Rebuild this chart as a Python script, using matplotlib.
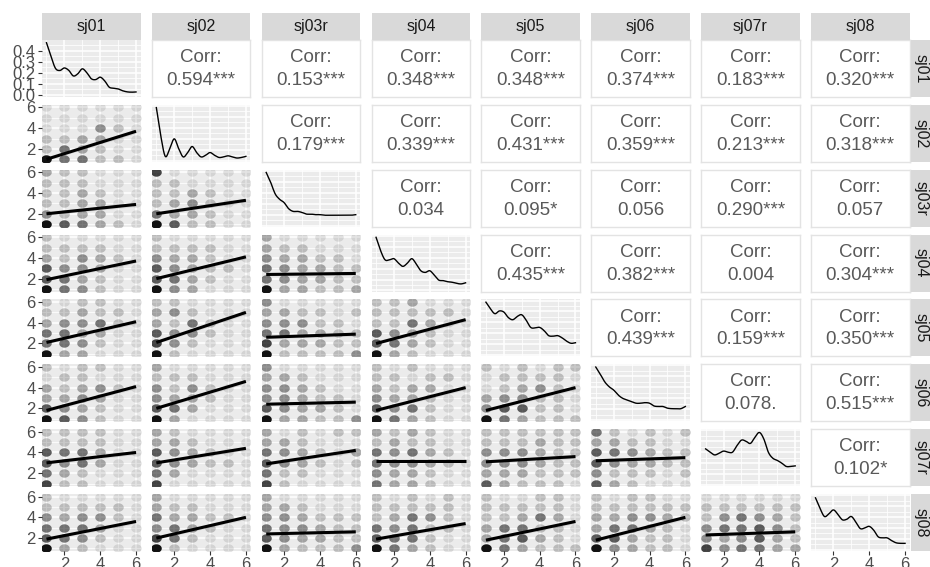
import numpy as np
import matplotlib
matplotlib.use("Agg")
import matplotlib.pyplot as plt
from matplotlib.path import Path

plt.rcParams['font.family'] = ['Liberation Sans', 'DejaVu Sans']

# ---------------- data ----------------
variables = ["sj01", "sj02", "sj03r", "sj04", "sj05", "sj06", "sj07r", "sj08"]
levels = [1, 2, 3, 4, 5, 6]
x_ticks = [2, 4, 6]

corr_labels = {
    (0, 1): "0.594***", (0, 2): "0.153***", (0, 3): "0.348***", (0, 4): "0.348***",
    (0, 5): "0.374***", (0, 6): "0.183***", (0, 7): "0.320***",
    (1, 2): "0.179***", (1, 3): "0.339***", (1, 4): "0.431***", (1, 5): "0.359***",
    (1, 6): "0.213***", (1, 7): "0.318***",
    (2, 3): "0.034", (2, 4): "0.095*", (2, 5): "0.056", (2, 6): "0.290***", (2, 7): "0.057",
    (3, 4): "0.435***", (3, 5): "0.382***", (3, 6): "0.004", (3, 7): "0.304***",
    (4, 5): "0.439***", (4, 6): "0.159***", (4, 7): "0.350***",
    (5, 6): "0.078.", (5, 7): "0.515***",
    (6, 7): "0.102*",
}

# point darkness 0-9 per (y level 6..1 rows, x level 1..6 cols)
scatter_density = {
    (1, 0): "111111 111111 111421 223311 253211 955221",
    (2, 0): "322111 222111 223211 223311 423311 965321",
    (2, 1): "711111 221111 223211 234211 533211 962211",
    (3, 0): "211111 222211 324321 644311 653211 954211",
    (3, 1): "211111 222211 433211 643221 653211 943111",
    (3, 2): "311111 322111 433221 543322 543322 933223",
    (4, 0): "212211 223221 344521 553311 554211 933111",
    (4, 1): "221111 342111 325211 644211 742111 921111",
    (4, 2): "411111 332212 444221 553322 733322 922224",
    (4, 3): "223111 222221 225311 643211 653211 932111",
    (5, 0): "212211 122111 323421 334311 643211 964211",
    (5, 1): "311111 222111 424211 433211 653111 931111",
    (5, 2): "411111 332111 443211 443221 643321 933224",
    (5, 3): "212111 221221 323311 433211 645211 953211",
    (5, 4): "212122 122221 123421 344221 466221 953222",
    (6, 0): "222211 222211 655311 645311 532111 722111",
    (6, 1): "321111 332111 643211 643221 531111 711111",
    (6, 2): "312122 332111 543213 643212 522111 721111",
    (6, 3): "323211 232211 545321 544321 433211 533211",
    (6, 4): "222222 222322 444322 444322 333222 632221",
    (6, 5): "521212 332211 654322 643322 422212 632111",
    (7, 0): "211111 222221 434421 555311 654211 932111",
    (7, 1): "311111 322111 533221 453211 752111 921111",
    (7, 2): "311111 332111 443222 544322 643322 932224",
    (7, 3): "212121 222221 235421 545221 655211 953211",
    (7, 4): "211221 222221 223531 355221 356321 953222",
    (7, 5): "212211 222222 334432 355321 663221 943221",
    (7, 6): "111111 222222 245432 455642 434632 745533",
}

# fitted line value at x=1 and x=6
fit_ends = {
    (1, 0): (1.0, 3.7), (2, 0): (2.0, 2.9), (2, 1): (2.0, 3.3),
    (3, 0): (1.9, 3.7), (3, 1): (2.0, 4.1), (3, 2): (2.4, 2.5),
    (4, 0): (2.1, 4.1), (4, 1): (2.1, 5.0), (4, 2): (2.6, 2.9), (4, 3): (2.0, 4.3),
    (5, 0): (1.8, 4.1), (5, 1): (2.0, 4.6), (5, 2): (2.4, 2.6), (5, 3): (1.8, 4.0),
    (5, 4): (1.8, 4.0),
    (6, 0): (3.0, 4.0), (6, 1): (3.0, 4.4), (6, 2): (2.9, 4.2), (6, 3): (3.2, 3.2),
    (6, 4): (3.1, 3.6), (6, 5): (3.2, 3.5),
    (7, 0): (1.9, 3.6), (7, 1): (2.0, 4.0), (7, 2): (2.4, 2.6), (7, 3): (1.9, 3.4),
    (7, 4): (1.8, 3.6), (7, 5): (1.8, 4.0), (7, 6): (2.3, 2.6),
}

# diagonal densities sampled at x = 1, 1.25, ..., 6
dens_x = [1, 1.25, 1.5, 1.75, 2, 2.25, 2.5, 2.75, 3, 3.25, 3.5, 3.75, 4,
          4.25, 4.5, 4.75, 5, 5.25, 5.5, 5.75, 6]
# sj01 in density units
dens_sj01 = [0.473, 0.35, 0.24, 0.22, 0.243, 0.22, 0.17, 0.19, 0.235, 0.20, 0.145,
             0.137, 0.159, 0.125, 0.068, 0.058, 0.052, 0.035, 0.025, 0.022, 0.024]
# the others as height within the panel (0 bottom, 1 top)
dens_rel = {
    "sj02": [0.97, 0.45, 0.08, 0.22, 0.40, 0.22, 0.07, 0.15, 0.26, 0.15, 0.07,
             0.10, 0.15, 0.10, 0.06, 0.07, 0.09, 0.07, 0.05, 0.06, 0.08],
    "sj03r": [0.97, 0.79, 0.58, 0.48, 0.42, 0.31, 0.26, 0.26, 0.24, 0.21, 0.21,
              0.20, 0.20, 0.19, 0.19, 0.19, 0.19, 0.19, 0.19, 0.19, 0.20],
    "sj04": [0.97, 0.73, 0.56, 0.56, 0.58, 0.50, 0.44, 0.50, 0.58, 0.48, 0.36,
             0.33, 0.36, 0.28, 0.19, 0.18, 0.16, 0.15, 0.13, 0.12, 0.14],
    "sj05": [0.97, 0.85, 0.76, 0.81, 0.79, 0.69, 0.65, 0.71, 0.74, 0.64, 0.51,
             0.50, 0.51, 0.45, 0.36, 0.35, 0.36, 0.32, 0.26, 0.22, 0.23],
    "sj06": [0.97, 0.84, 0.70, 0.61, 0.55, 0.46, 0.40, 0.37, 0.34, 0.31, 0.31,
             0.32, 0.31, 0.26, 0.25, 0.25, 0.22, 0.21, 0.21, 0.21, 0.25],
    "sj07r": [0.66, 0.60, 0.55, 0.58, 0.62, 0.60, 0.60, 0.72, 0.82, 0.80, 0.76,
              0.87, 0.96, 0.84, 0.60, 0.49, 0.45, 0.40, 0.34, 0.34, 0.35],
    "sj08": [0.95, 0.76, 0.61, 0.66, 0.73, 0.65, 0.55, 0.56, 0.61, 0.51, 0.39,
             0.40, 0.43, 0.36, 0.24, 0.22, 0.22, 0.17, 0.13, 0.12, 0.12],
}
sj01_ticks = [0.0, 0.1, 0.2, 0.3, 0.4]
sj01_tick_labels = ["0.0", "0.1", "0.2", "0.3", "0.4"]

# ---------------- layout ----------------
W, H = 930, 567
fig = plt.figure(figsize=(W / 100, H / 100), dpi=100)
col_left0, col_step, pw = 42.0, 109.86, 98.5
row_top0, row_step, ph = 40.0, 64.86, 57.0
strip_h = 27.5

BG = "#EBEBEB"
STRIP = "#D9D9D9"
TXT_AX = "#4D4D4D"
XLIM = (0.75, 6.25)


def px_axes(x0, y0, w, h, **kw):
    return fig.add_axes([x0 / W, 1 - (y0 + h) / H, w / W, h / H], **kw)


def smooth(x, y, n=12):
    x = np.asarray(x, float); y = np.asarray(y, float)
    m = np.gradient(y, x)
    xs, ys = [], []
    for i in range(len(x) - 1):
        t = np.linspace(0, 1, n, endpoint=False)
        h = x[i + 1] - x[i]
        h00 = 2 * t**3 - 3 * t**2 + 1
        h10 = t**3 - 2 * t**2 + t
        h01 = -2 * t**3 + 3 * t**2
        h11 = t**3 - t**2
        xs.append(x[i] + t * h)
        ys.append(h00 * y[i] + h10 * h * m[i] + h01 * y[i + 1] + h11 * h * m[i + 1])
    xs.append([x[-1]]); ys.append([y[-1]])
    return np.concatenate(xs), np.concatenate(ys)


# ellipse marker (points look slightly wider than tall)
th = np.linspace(0, 2 * np.pi, 40)
ell = Path(np.column_stack([np.cos(th), 0.8 * np.sin(th)]), closed=True)


def style_gray(ax):
    ax.set_facecolor(BG)
    for s in ax.spines.values():
        s.set_visible(False)
    ax.tick_params(length=3, color="#333333", width=0.8, labelsize=12,
                   labelcolor=TXT_AX, pad=1.5)
    ax.set_xlim(*XLIM)
    ax.set_xticks(x_ticks)
    ax.set_xticks([1, 3, 5], minor=True)
    ax.tick_params(which="minor", length=0)
    ax.grid(True, which="major", color="white", lw=1.1)
    ax.grid(True, which="minor", color="white", lw=0.55)
    ax.set_axisbelow(True)


n = len(variables)
for i in range(n):
    for j in range(n):
        x0 = col_left0 + j * col_step
        y0 = row_top0 + i * row_step
        ax = px_axes(x0, y0, pw, ph)
        if j > i:
            ax.set_facecolor("white")
            ax.set_xticks([]); ax.set_yticks([])
            for s in ax.spines.values():
                s.set_color("#E3E3E3"); s.set_linewidth(1.0)
            ax.text(0.5, 0.69, "Corr:", transform=ax.transAxes, ha="center",
                    va="center", fontsize=13.5, color="#595959")
            ax.text(0.5, 0.29, corr_labels[(i, j)], transform=ax.transAxes,
                    ha="center", va="center", fontsize=13.5, color="#595959")
        elif j == i:
            style_gray(ax)
            if i == 0:
                xs, ys = smooth(dens_x, dens_sj01)
                ax.plot(xs, ys, color="black", lw=1.0)
                ax.set_ylim(-0.022, 0.498)
                ax.set_yticks(sj01_ticks)
                ax.set_yticklabels(sj01_tick_labels)
                ax.set_yticks([0.05, 0.15, 0.25, 0.35, 0.45], minor=True)
            else:
                xs, ys = smooth(dens_x, dens_rel[variables[i]])
                ax.plot(xs, ys, color="black", lw=1.0)
                ax.set_ylim(-0.02, 1.02)
                ax.set_yticks([0.0, 0.2, 0.4, 0.6, 0.8, 1.0])
                ax.set_yticks([0.1, 0.3, 0.5, 0.7, 0.9], minor=True)
        else:
            style_gray(ax)
            ax.set_ylim(*XLIM)
            ax.set_yticks(x_ticks)
            ax.set_yticks([1, 3, 5], minor=True)
            rows = scatter_density[(i, j)].split()
            for r, rowstr in enumerate(rows):
                yv = levels[::-1][r]
                for c, ch in enumerate(rowstr):
                    d = int(ch)
                    a = max(0.06, d / 9 * 0.93)
                    ax.plot(levels[c], yv, marker=ell, ms=7.6, color="black",
                            alpha=a, mew=0, ls="none")
            y1, y6 = fit_ends[(i, j)]
            ax.fill_between([1, 6], [y1 - 0.12, y6 - 0.2], [y1 + 0.12, y6 + 0.2],
                            color="#999999", alpha=0.25, lw=0)
            ax.plot([1, 6], [y1, y6], color="black", lw=2.2, solid_capstyle="butt")
        # axis labels only on left column / bottom row
        if j != 0:
            ax.tick_params(axis="y", left=False, labelleft=False)
        if i != n - 1:
            ax.tick_params(axis="x", bottom=False, labelbottom=False)

# top strips
for j, v in enumerate(variables):
    x0 = col_left0 + j * col_step
    sax = px_axes(x0, row_top0 - strip_h, pw, strip_h)
    sax.set_facecolor(STRIP)
    sax.set_xticks([]); sax.set_yticks([])
    for s in sax.spines.values():
        s.set_visible(False)
    sax.text(0.5, 0.5, v, transform=sax.transAxes, ha="center", va="center",
             fontsize=11.5, color="#1A1A1A")

# right strips
for i, v in enumerate(variables):
    y0 = row_top0 + i * row_step
    sax = px_axes(911, y0, 21, ph)
    sax.set_facecolor(STRIP)
    sax.set_xticks([]); sax.set_yticks([])
    for s in sax.spines.values():
        s.set_visible(False)
    sax.text(0.5, 0.5, v, transform=sax.transAxes, ha="center", va="center",
             fontsize=11.5, color="#1A1A1A", rotation=-90)

fig.savefig("out.png", dpi=100)
